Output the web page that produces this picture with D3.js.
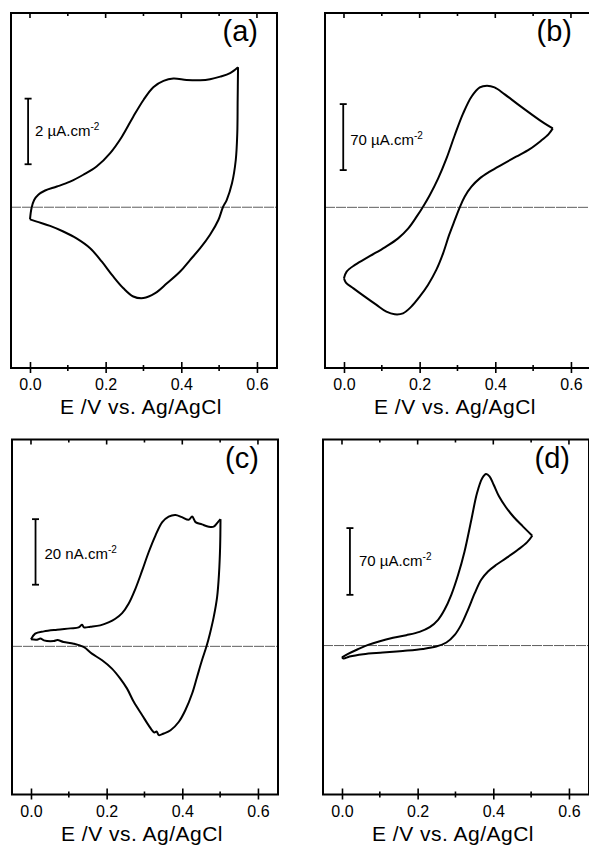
<!DOCTYPE html>
<html>
<head>
<meta charset="utf-8">
<script src="https://cdn.jsdelivr.net/npm/d3@7"></script>
<style>
  body { margin: 0; background: #fff; }
  text { font-family: "Liberation Sans", Arial, sans-serif; fill: #000; }
</style>
</head>
<body>
<svg width="589" height="850"></svg>
<script>
// cyclic voltammograms, E in V, current in the unit of the scale bar
// forward = anodic sweep, reverse = cathodic sweep
var aForward = [[0,-0.37],[0.004,-0.03],[0.011,0.22],[0.022,0.38],[0.040,0.51],[0.071,0.63],[0.106,0.78],[0.141,0.99],[0.176,1.24],[0.212,1.65],[0.243,2.15],[0.273,2.76],[0.300,3.27],[0.326,3.66],[0.353,3.85],[0.379,3.92],[0.414,3.88],[0.450,3.87],[0.476,3.90],[0.503,3.98],[0.529,4.09],[0.550,4.27]];
var aReverse = [[0.550,4.27],[0.549,3.27],[0.548,2.26],[0.544,1.44],[0.534,0.73],[0.520,0.22],[0.510,0],[0.498,-0.39],[0.476,-0.84],[0.450,-1.25],[0.423,-1.61],[0.397,-1.96],[0.362,-2.32],[0.331,-2.62],[0.300,-2.77],[0.273,-2.72],[0.247,-2.47],[0.220,-2.11],[0.190,-1.66],[0.159,-1.25],[0.123,-0.95],[0.088,-0.74],[0.053,-0.57],[0.018,-0.44],[0,-0.37]];

var bForward = [[0,-75.3],[0.007,-68.2],[0.029,-61.1],[0.069,-51.6],[0.108,-42.4],[0.143,-32.9],[0.170,-22.3],[0.192,-9.9],[0.209,0.7],[0.227,13.1],[0.249,30.7],[0.271,51.9],[0.293,76.7],[0.315,99.6],[0.337,117.3],[0.359,127.2],[0.378,129.0],[0.398,127.2],[0.424,120.1],[0.459,109.5],[0.495,98.9],[0.530,89.0],[0.552,83.7]];
var bReverse = [[0.552,83.7],[0.541,77.7],[0.521,70.7],[0.490,61.5],[0.455,53.7],[0.420,45.9],[0.385,37.8],[0.359,30.7],[0.337,21.9],[0.319,11.3],[0.306,0],[0.293,-13.4],[0.278,-29.3],[0.262,-48.8],[0.244,-66.4],[0.222,-82.3],[0.200,-94.7],[0.178,-105.3],[0.156,-112.4],[0.134,-113.4],[0.112,-110.6],[0.086,-103.5],[0.055,-94.7],[0.025,-85.9],[0.005,-79.9],[0,-75.3]];

var cForward = [[0,2.13],[0.011,3.86],[0.034,4.57],[0.069,5.08],[0.104,5.48],[0.126,5.79],[0.135,6.6],[0.140,5.8],[0.157,5.99],[0.183,6.40],[0.205,7.31],[0.223,8.43],[0.241,10.15],[0.258,13.0],[0.276,17.56],[0.294,23.15],[0.311,28.7],[0.329,33.8],[0.347,37.9],[0.364,39.6],[0.382,40.1],[0.399,39.4],[0.417,38.6],[0.426,39.6],[0.435,37.9],[0.452,37.2],[0.470,36.5],[0.483,36.5],[0.492,37.6],[0.501,38.8]];
var cReverse = [[0.501,38.8],[0.500,30.3],[0.497,22.1],[0.492,15.0],[0.483,8.9],[0.473,3.86],[0.464,0],[0.452,-4.26],[0.439,-9.34],[0.426,-14.4],[0.408,-19.5],[0.391,-23.0],[0.369,-25.6],[0.351,-26.6],[0.338,-27.1],[0.332,-26.0],[0.326,-26.3],[0.311,-24.1],[0.294,-21.0],[0.272,-17.0],[0.254,-12.9],[0.236,-9.85],[0.214,-6.8],[0.188,-4.26],[0.161,-2.23],[0.139,-0.2],[0.113,0.81],[0.086,1.32],[0.070,1.9],[0.060,1.62],[0.034,1.83],[0.025,2.4],[0.016,2.03],[0,2.13]];

var dForward = [[0,-12.3],[0.016,-8.8],[0.042,-3.9],[0.069,0.7],[0.100,4.6],[0.135,8.1],[0.170,10.9],[0.205,14.4],[0.232,19.3],[0.254,27.0],[0.271,37.5],[0.289,53.2],[0.307,74.2],[0.324,98.7],[0.342,132.0],[0.357,160.0],[0.371,175.7],[0.381,179.9],[0.390,177.5],[0.401,168.7],[0.415,156.5],[0.433,145.3],[0.454,134.8],[0.478,125.0],[0.503,115.2]];
var dReverse = [[0.503,115.2],[0.489,108.2],[0.465,100.5],[0.434,91.7],[0.408,84.7],[0.386,77.7],[0.368,69.0],[0.351,55.0],[0.333,37.5],[0.315,21.7],[0.298,11.2],[0.276,3.2],[0.249,-1.05],[0.214,-3.5],[0.161,-5.6],[0.108,-7.35],[0.056,-9.1],[0.020,-11.55],[0.004,-13.65],[0,-12.3]];

var majorTicks = [0, 0.2, 0.4, 0.6];
var minorTicks = [0.1, 0.3, 0.5];
var xTitle = "E /V vs. Ag/AgCl";
var panelTags = ["(a)", "(b)", "(c)", "(d)"];
var barLabels = ["2 \u00b5A.cm", "70 \u00b5A.cm", "20 nA.cm", "70 \u00b5A.cm"];
var barLengths = [2, 70, 20, 70];

var panels = [
  { left: 11,  top: 13,    yDomain: [-4.90, 5.92],   fwd: aForward, rev: aReverse, barE: -0.005, barI0: 1.31,  labelDx: 7, labelDy: 0 },
  { left: 325, top: 13,    yDomain: [-170.4, 206.1], fwd: bForward, rev: bReverse, barE: -0.002, barI0: 39.5,  labelDx: 7, labelDy: 3 },
  { left: 12,  top: 439.5, yDomain: [-45.2, 63.1],   fwd: cForward, rev: cReverse, barE: 0.012,  barI0: 18.8,  labelDx: 9, labelDy: 2 },
  { left: 323, top: 439.5, yDomain: [-156.2, 216.1], fwd: dForward, rev: dReverse, barE: 0.021,  barI0: 53.2,  labelDx: 9, labelDy: 0 }
];

var W = 266, H = 355;
var svg = d3.select("svg");

panels.forEach(function(p, k) {
  var g = svg.append("g").attr("transform", "translate(" + p.left + "," + p.top + ")");

  var x = d3.scaleLinear().domain([-0.0502, 0.653]).range([0, W]);
  var y = d3.scaleLinear().domain(p.yDomain).range([H, 0]);

  // zero current line
  g.append("line")
    .attr("x1", 0).attr("x2", W)
    .attr("y1", y(0)).attr("y2", y(0))
    .attr("stroke", "#333")
    .attr("stroke-width", 0.8)
    .attr("stroke-dasharray", "10,1");

  var line = d3.line()
    .x(function(d) { return x(d[0]); })
    .y(function(d) { return y(d[1]); })
    .curve(d3.curveCatmullRom.alpha(0.5));

  [p.fwd, p.rev].forEach(function(arr) {
    g.append("path")
      .datum(arr)
      .attr("d", line)
      .attr("fill", "none")
      .attr("stroke", "#000")
      .attr("stroke-width", 2)
      .attr("stroke-linejoin", "round");
  });

  // bottom axis: labels + ticks crossing the frame
  var ax = g.append("g")
    .attr("transform", "translate(0," + H + ")")
    .call(d3.axisBottom(x).tickValues(majorTicks).tickFormat(d3.format(".1f"))
      .tickSize(5).tickSizeOuter(0).tickPadding(6));
  ax.select(".domain").remove();
  ax.selectAll(".tick line").attr("y1", -6).attr("stroke", "#000").attr("stroke-width", 1.6);
  ax.selectAll(".tick text")
    .attr("font-size", 16)
    .attr("font-family", "'Liberation Sans', Arial, sans-serif");

  minorTicks.forEach(function(t) {
    g.append("line").attr("x1", x(t)).attr("x2", x(t))
      .attr("y1", H - 3).attr("y2", H + 3)
      .attr("stroke", "#000").attr("stroke-width", 1.6);
  });

  // top ticks, pointing inward
  majorTicks.concat(minorTicks).forEach(function(t) {
    var len = majorTicks.indexOf(t) >= 0 ? 5 : 3;
    g.append("line").attr("x1", x(t)).attr("x2", x(t))
      .attr("y1", 0).attr("y2", len)
      .attr("stroke", "#000").attr("stroke-width", 1.6);
  });

  // frame
  g.append("rect")
    .attr("width", W).attr("height", H)
    .attr("fill", "none").attr("stroke", "#000").attr("stroke-width", 2);

  // axis title
  g.append("text")
    .attr("x", W / 2 - 3)
    .attr("y", H + 46)
    .attr("text-anchor", "middle")
    .attr("font-size", 21)
    .attr("letter-spacing", 0.5)
    .text(xTitle);

  // panel tag
  g.append("text")
    .attr("x", x(0.6) + 1)
    .attr("y", 28)
    .attr("text-anchor", "end")
    .attr("font-size", 29)
    .text(panelTags[k]);

  // scale bar
  var bx = x(p.barE), by0 = y(p.barI0), by1 = y(p.barI0 + barLengths[k]);
  g.append("line").attr("x1", bx).attr("x2", bx).attr("y1", by0).attr("y2", by1)
    .attr("stroke", "#000").attr("stroke-width", 1.8);
  [by0, by1].forEach(function(yy) {
    g.append("line").attr("x1", bx - 3.5).attr("x2", bx + 3.5).attr("y1", yy).attr("y2", yy)
      .attr("stroke", "#000").attr("stroke-width", 1.8);
  });
  var lab = g.append("text")
    .attr("x", bx + p.labelDx)
    .attr("y", (by0 + by1) / 2 + p.labelDy + 5)
    .attr("font-size", 15)
    .text(barLabels[k]);
  lab.append("tspan").attr("dy", -6).attr("font-size", 10).text("-2");
});
</script>
</body>
</html>
